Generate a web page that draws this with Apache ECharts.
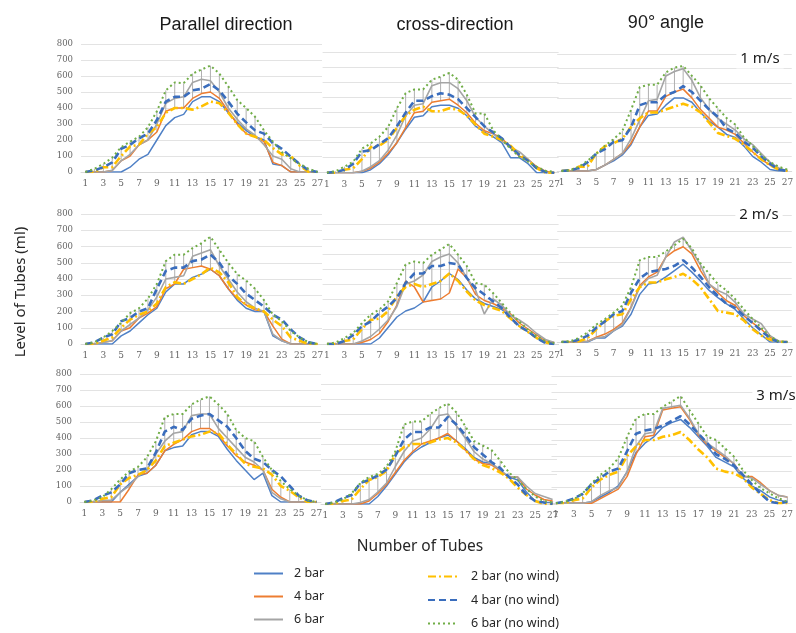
<!DOCTYPE html>
<html>
<head>
<meta charset="utf-8">
<script src="https://cdn.jsdelivr.net/npm/echarts@6/dist/echarts.min.js"></script>
<style>
  html, body { margin: 0; padding: 0; background: #fff; }
  #main { width: 796px; height: 633px; }
</style>
</head>
<body>
<div id="main"></div>
<script>
// tube numbers on the x axis
var tubes = ['1','2','3','4','5','6','7','8','9','10','11','12','13','14','15','16','17','18','19','20','21','22','23','24','25','26','27'];

var seriesNames = ['2 bar', '4 bar', '6 bar', '2 bar (no wind)', '4 bar (no wind)', '6 bar (no wind)'];
var colTitles = ['Parallel direction', 'cross-direction', '90° angle'];
var speedLabels = ['1 m/s', '2 m/s', '3 m/s'];

// Parallel direction, 1 m/s
var par1_2   = [0,0,0,0,0,30,80,110,200,290,340,360,440,470,470,440,370,310,260,220,200,50,40,0,0,0,0];
var par1_4   = [0,0,0,10,70,100,170,200,250,380,400,400,460,490,500,460,380,300,240,220,190,60,40,0,0,0,0];
var par1_6   = [0,0,0,10,70,110,170,200,300,430,460,470,560,580,570,500,400,330,270,230,170,100,80,20,0,0,0];
var par1_2nw = [0,0,30,30,100,160,170,240,280,370,400,400,390,410,440,430,370,300,240,220,200,150,110,100,40,0,0];
var par1_4nw = [0,10,30,60,145,170,210,240,325,440,470,470,510,520,550,510,440,365,310,260,240,180,145,95,50,10,0];
var par1_6nw = [0,20,50,90,155,190,220,280,380,510,560,555,615,640,665,615,535,450,400,345,260,190,125,85,50,20,0];

// cross-direction, 1 m/s
var crs1_2   = [0,0,0,0,0,20,60,120,200,290,370,380,440,450,450,430,380,310,270,240,200,100,100,60,0,0,0];
var crs1_4   = [0,0,0,0,10,30,70,130,200,300,400,410,470,480,490,450,400,330,280,260,230,170,110,90,40,10,0];
var crs1_6   = [0,0,0,0,10,40,80,150,250,380,450,460,580,600,600,560,480,370,310,260,210,170,140,90,30,0,0];
var crs1_2nw = [0,0,20,30,90,170,180,220,300,380,420,440,410,410,430,420,380,320,260,240,220,180,120,80,30,0,0];
var crs1_4nw = [0,5,20,60,140,150,190,230,310,400,480,480,510,530,520,490,430,370,310,270,230,170,120,80,30,5,0];
var crs1_6nw = [0,10,40,73,160,195,240,305,430,530,555,555,620,640,665,620,520,395,395,285,220,160,107,73,40,13,5];

// 90° angle, 1 m/s
var ang1_2   = [0,0,0,0,10,40,70,110,180,300,380,390,450,500,500,470,400,340,300,250,230,170,100,60,10,0,0];
var ang1_4   = [0,0,0,0,10,40,80,120,190,300,410,410,510,540,560,500,420,360,300,280,250,190,130,80,40,10,0];
var ang1_6   = [0,0,0,0,10,40,80,120,220,350,480,490,650,680,700,620,500,420,360,320,280,220,180,120,60,20,0];
var ang1_2nw = [0,5,30,30,120,170,190,220,300,360,400,400,420,440,460,440,400,330,260,240,220,180,130,80,40,10,0];
var ang1_4nw = [0,5,20,60,120,150,200,210,300,450,470,470,520,540,580,540,480,420,370,290,260,200,160,100,50,10,0];
var ang1_6nw = [0,5,30,70,118,173,218,273,418,573,590,590,673,707,718,651,584,496,429,362,318,229,173,107,62,29,10];

// Parallel direction, 2 m/s
var par2_2   = [0,0,0,0,50,80,130,180,220,320,370,370,410,430,460,420,340,270,220,200,200,50,20,0,0,0,0];
var par2_4   = [0,0,10,20,80,100,160,190,230,340,370,460,470,480,460,420,340,280,240,210,200,110,30,0,0,0,0];
var par2_6   = [0,0,10,20,80,120,160,210,290,400,410,420,540,560,580,480,400,320,260,220,200,60,20,0,0,0,0];
var par2_2nw = [0,0,20,40,100,150,180,200,250,350,380,370,400,430,470,440,380,290,240,220,200,150,110,40,20,0,0];
var par2_4nw = [0,10,40,60,140,160,200,220,340,450,470,470,510,520,550,500,420,370,310,270,230,180,150,90,40,10,0];
var par2_6nw = [0,10,40,80,130,190,220,280,370,510,550,550,590,620,660,580,500,430,390,340,270,180,140,80,40,10,0];

// cross-direction, 2 m/s
var crs2_2   = [0,0,0,0,0,0,40,110,180,220,240,280,380,420,470,430,360,300,270,250,230,180,120,80,40,10,0];
var crs2_4   = [0,0,0,0,10,30,70,150,260,420,380,280,290,300,340,500,440,330,290,270,240,200,140,100,60,20,10];
var crs2_6   = [0,0,0,0,20,50,100,160,250,400,420,460,550,580,600,540,440,360,200,300,260,190,160,120,70,30,10];
var crs2_2nw = [0,0,20,30,100,160,170,220,320,380,400,380,400,420,470,420,350,290,260,240,220,170,120,80,40,10,0];
var crs2_4nw = [0,0,20,60,118,150,207,250,307,407,470,470,520,520,540,530,440,373,330,285,240,175,118,85,40,7,0];
var crs2_6nw = [0,10,40,73,140,195,230,285,407,530,550,540,595,630,667,595,520,407,395,340,273,207,150,95,50,20,5];

// 90° angle, 2 m/s
var ang2_2   = [0,0,0,0,25,25,70,100,175,300,365,375,410,450,490,440,385,325,280,240,205,145,90,45,0,0,0];
var ang2_4   = [0,0,0,5,30,50,80,120,220,355,410,440,535,575,600,555,450,365,310,260,230,165,120,80,30,5,0];
var ang2_6   = [0,0,0,5,25,35,70,110,215,345,400,420,535,630,660,575,485,365,325,300,250,175,145,115,40,5,0];
var ang2_2nw = [0,0,5,25,80,130,165,175,270,345,375,375,395,410,430,395,345,270,195,185,175,135,80,40,15,0,0];
var ang2_4nw = [0,0,15,40,90,130,175,195,310,400,440,450,460,480,515,470,410,345,290,240,215,165,120,70,25,0,0];
var ang2_6nw = [0,5,25,60,110,145,185,230,345,515,535,535,570,610,650,590,495,430,365,325,270,205,145,90,35,5,0];

// Parallel direction, 3 m/s
var par3_2   = [0,0,0,0,60,110,160,180,230,320,340,350,420,440,440,410,330,260,200,140,180,40,0,0,0,0,0];
var par3_4   = [0,0,0,0,0,80,170,180,230,320,360,390,440,460,460,420,350,290,250,230,200,80,30,0,0,0,0];
var par3_6   = [0,0,10,10,60,100,160,200,300,380,430,440,540,550,550,460,400,340,280,250,200,60,20,0,0,0,0];
var par3_2nw = [0,0,20,30,110,150,170,200,260,350,370,390,410,420,440,430,360,300,240,220,210,170,100,70,30,0,0];
var par3_4nw = [0,10,40,60,110,180,200,210,310,440,470,450,520,540,550,510,470,400,320,270,250,200,160,100,40,10,0];
var par3_6nw = [0,10,30,80,140,190,220,280,380,530,550,550,610,640,660,610,550,450,400,380,280,200,130,80,40,10,0];

// cross-direction, 3 m/s
var crs3_2   = [0,0,0,0,0,0,50,120,200,280,340,380,410,440,460,420,370,310,280,270,220,180,160,80,20,10,10];
var crs3_4   = [0,0,0,0,0,20,70,130,210,290,350,400,420,440,470,420,360,300,270,260,220,180,180,100,60,30,20];
var crs3_6   = [0,0,0,0,10,30,80,140,250,350,420,440,500,590,600,520,440,350,300,270,230,180,180,120,70,50,30];
var crs3_2nw = [0,0,20,30,100,160,180,220,330,380,400,400,410,430,440,410,360,300,260,240,210,170,110,60,20,0,0];
var crs3_4nw = [0,10,40,60,140,160,190,230,320,430,480,480,510,510,580,530,460,380,330,280,240,180,130,60,20,10,0];
var crs3_6nw = [0,10,30,70,140,180,200,250,350,530,550,550,600,640,670,610,520,420,390,360,290,210,160,100,50,20,10];

// 90° angle, 3 m/s
var ang3_2   = [0,0,0,0,10,40,70,110,200,320,380,420,480,510,530,480,420,360,290,260,230,160,110,80,40,20,10];
var ang3_4   = [0,0,0,0,0,30,60,90,170,310,420,430,590,600,610,530,430,370,330,290,250,170,170,130,80,50,40];
var ang3_6   = [0,0,0,0,10,50,80,100,200,360,440,450,600,610,620,540,440,380,340,300,250,170,160,120,80,50,40];
var ang3_2nw = [0,0,20,30,100,150,180,200,300,360,400,400,420,430,450,400,340,290,220,200,190,160,100,60,20,0,0];
var ang3_4nw = [0,10,30,60,120,160,200,220,330,440,460,470,490,520,550,500,440,380,310,280,240,180,120,60,10,0,10];
var ang3_6nw = [0,10,25,63,126,180,221,284,421,537,564,564,610,642,678,590,505,421,400,347,295,210,147,95,63,32,10];

(function () {
  var myChart = echarts.init(document.getElementById('main'));

  // row by row, left to right
  var panels = [
    [par1_2, par1_4, par1_6, par1_2nw, par1_4nw, par1_6nw],
    [crs1_2, crs1_4, crs1_6, crs1_2nw, crs1_4nw, crs1_6nw],
    [ang1_2, ang1_4, ang1_6, ang1_2nw, ang1_4nw, ang1_6nw],
    [par2_2, par2_4, par2_6, par2_2nw, par2_4nw, par2_6nw],
    [crs2_2, crs2_4, crs2_6, crs2_2nw, crs2_4nw, crs2_6nw],
    [ang2_2, ang2_4, ang2_6, ang2_2nw, ang2_4nw, ang2_6nw],
    [par3_2, par3_4, par3_6, par3_2nw, par3_4nw, par3_6nw],
    [crs3_2, crs3_4, crs3_6, crs3_2nw, crs3_4nw, crs3_6nw],
    [ang3_2, ang3_4, ang3_6, ang3_2nw, ang3_4nw, ang3_6nw]
  ];

  // plot boxes [left, top, width, height], taken from the original layout
  var boxes = [
    [81, 44, 241, 128], [322.6, 52.7, 236, 120], [557.2, 54, 241, 117],
    [81, 214, 241, 130], [322.6, 224, 236, 120], [557.2, 215, 241, 127],
    [80, 374, 241, 128], [321, 384, 236, 120], [551.5, 376.7, 244, 126.6]
  ];

  var lineStyles = [
    { color: '#4f80c6', width: 1.5, type: 'solid' },
    { color: '#ed7d31', width: 1.5, type: 'solid' },
    { color: '#a5a5a5', width: 1.6, type: 'solid' },
    { color: '#ffc000', width: 2.6, type: [8, 3, 2, 3] },
    { color: '#3a6dbd', width: 2.6, type: [7, 4] },
    { color: '#70ad47', width: 2, type: [2, 3] }
  ];

  var grids = [], xAxes = [], yAxes = [], series = [];

  panels.forEach(function (p, i) {
    var b = boxes[i];
    var firstCol = i % 3 === 0;
    grids.push({ left: b[0], top: b[1], width: b[2], height: b[3] });
    xAxes.push({
      type: 'category',
      gridIndex: i,
      data: tubes,
      axisLine: { lineStyle: { color: '#d9d9d9' } },
      axisTick: { show: false },
      axisLabel: { interval: 1, color: '#666', fontSize: 9, margin: 7, fontFamily: 'DejaVu Serif' }
    });
    yAxes.push({
      type: 'value',
      gridIndex: i,
      min: 0,
      max: 800,
      interval: 100,
      axisLine: { show: false },
      axisTick: { show: false },
      axisLabel: { show: firstCol, color: '#666', fontSize: 8.5, margin: 8, fontFamily: 'DejaVu Serif' },
      splitLine: { lineStyle: { color: '#e3e3e3', width: 1 } }
    });

    // thin grey bars hanging from the no-wind 6 bar points
    series.push({
      type: 'custom',
      xAxisIndex: i,
      yAxisIndex: i,
      silent: true,
      z: 1,
      encode: { x: 0, y: [1, 2] },
      data: p[5].map(function (v, k) { return [k, v, p[1][k]]; }),
      renderItem: function (params, api) {
        var top = api.coord([api.value(0), api.value(1)]);
        var bot = api.coord([api.value(0), api.value(2)]);
        return {
          type: 'line',
          shape: { x1: top[0], y1: top[1], x2: bot[0], y2: bot[1] },
          style: { stroke: '#b0b0b0', lineWidth: 1 }
        };
      }
    });

    p.forEach(function (values, s) {
      series.push({
        name: seriesNames[s],
        type: 'line',
        xAxisIndex: i,
        yAxisIndex: i,
        data: values,
        symbol: 'none',
        z: 2 + s,
        lineStyle: lineStyles[s],
        itemStyle: { color: lineStyles[s].color }
      });
    });
  });

  var texts = [];
  colTitles.forEach(function (t, c) {
    texts.push({
      type: 'text',
      x: [226, 455, 666][c],
      y: [25, 25, 23][c],
      style: {
        text: t, fill: '#1a1a1a', font: '18px "Liberation Sans", Arial, sans-serif',
        align: 'center', verticalAlign: 'middle'
      }
    });
  });
  speedLabels.forEach(function (t, r) {
    texts.push({
      type: 'text',
      x: [760, 759, 776][r],
      y: [59, 215, 396][r],
      z: 100,
      style: {
        text: t, fill: '#1a1a1a', font: '15px "Noto Sans", sans-serif',
        align: 'center', verticalAlign: 'middle',
        backgroundColor: '#fff', padding: [2, 4]
      }
    });
  });
  texts.push({
    type: 'text',
    x: 21,
    y: 292,
    rotation: Math.PI / 2,
    style: {
      text: 'Level of Tubes (ml)', fill: '#262626', font: '15px "Noto Sans", sans-serif',
      align: 'center', verticalAlign: 'middle'
    }
  });
  texts.push({
    type: 'text',
    x: 420,
    y: 547,
    style: {
      text: 'Number of Tubes', fill: '#262626', font: '15.5px "Noto Sans", sans-serif',
      align: 'center', verticalAlign: 'middle'
    }
  });

  var legendBase = {
    orient: 'vertical',
    padding: 0,
    itemWidth: 29,
    itemHeight: 14,
    itemStyle: { opacity: 0, color: 'rgba(0,0,0,0)', borderWidth: 0 },
    textStyle: { color: '#262626', fontSize: 12.5, fontFamily: 'Noto Sans' }
  };

  var option = {
    animation: false,
    grid: grids,
    xAxis: xAxes,
    yAxis: yAxes,
    legend: [
      echarts.util.merge({ data: seriesNames.slice(0, 3), left: 253, top: 567, itemGap: 10, textStyle: { padding: [0, 0, 0, 6] } }, legendBase),
      echarts.util.merge({ data: seriesNames.slice(3), left: 427, top: 570, itemGap: 10.5, textStyle: { padding: [0, 0, 0, 9] } }, legendBase)
    ],
    graphic: texts,
    series: series
  };

  myChart.setOption(option);
  window.addEventListener('resize', function () {
    myChart.resize();
  });
})();
</script>
</body>
</html>
